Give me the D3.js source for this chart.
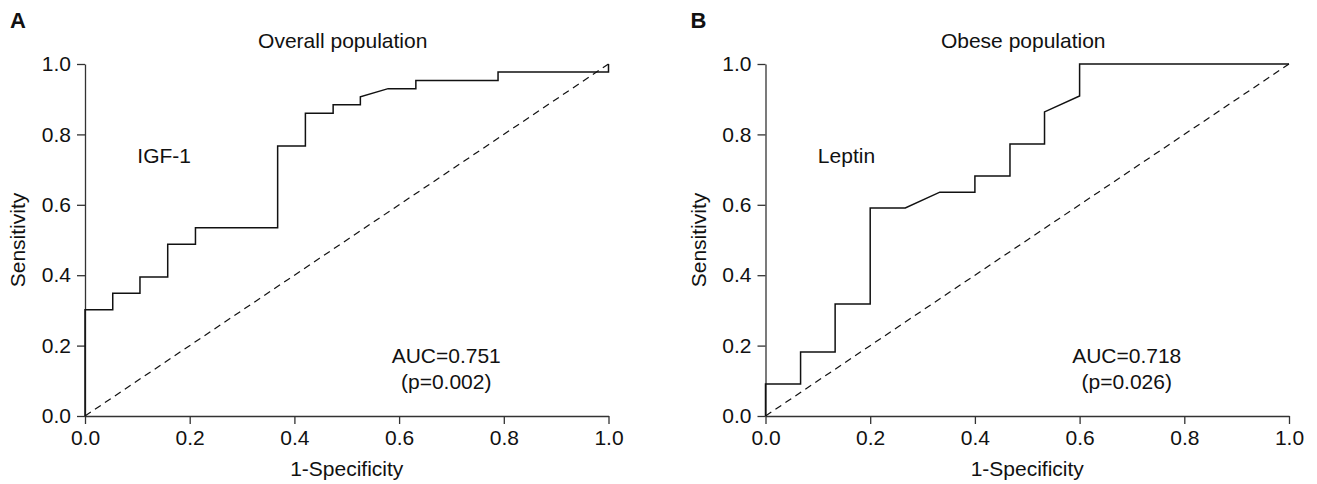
<!DOCTYPE html>
<html>
  <head>
    <meta charset="utf-8">
    <title>ROC curves</title>
    <style>
      body { margin: 0; background: #fff; overflow: hidden; }
      text { font-family: "Liberation Sans", Arial, sans-serif; fill: #111; }
      .axis path, .axis line { stroke: #333; stroke-width: 1.3; }
      .axis text { font-size: 21px; fill: #111; }
    </style>
    <script src="https://d3js.org/d3.v7.min.js"></script>
  </head>
  <body>
    <svg width="1317" height="484"></svg>
    <script>
      // ROC points: [1-specificity, sensitivity]
      const igfRoc = [
        [0, 0], [0, 0.302], [0.053, 0.302], [0.053, 0.349], [0.105, 0.349],
        [0.105, 0.395], [0.158, 0.395], [0.158, 0.488], [0.211, 0.488],
        [0.211, 0.535], [0.368, 0.535], [0.368, 0.767], [0.421, 0.767],
        [0.421, 0.860], [0.474, 0.860], [0.474, 0.884], [0.526, 0.884],
        [0.526, 0.907], [0.579, 0.930], [0.632, 0.930], [0.632, 0.953],
        [0.789, 0.953], [0.789, 0.977], [1, 0.977], [1, 1]
      ];
      const leptinRoc = [
        [0, 0], [0, 0.091], [0.067, 0.091], [0.067, 0.182], [0.133, 0.182],
        [0.133, 0.318], [0.2, 0.318], [0.2, 0.591], [0.267, 0.591],
        [0.333, 0.636], [0.4, 0.636], [0.4, 0.682], [0.467, 0.682],
        [0.467, 0.773], [0.533, 0.773], [0.533, 0.864], [0.6, 0.909],
        [0.6, 1], [1, 1]
      ];
      const reference = [[0, 0], [1, 1]];
      const ticks = [0, 0.2, 0.4, 0.6, 0.8, 1.0];

      const panels = [
        { letter: 'A', title: 'Overall population', marker: 'IGF-1', auc: 'AUC=0.751', p: '(p=0.002)', data: igfRoc, left: 85 },
        { letter: 'B', title: 'Obese population', marker: 'Leptin', auc: 'AUC=0.718', p: '(p=0.026)', data: leptinRoc, left: 765.5 }
      ];

      const svg = d3.select('svg');
      const plotTop = 64, plotBottom = 416, plotW = 523.5;

      panels.forEach(pn => {
        const x = d3.scaleLinear().domain([0, 1]).range([pn.left, pn.left + plotW]);
        const y = d3.scaleLinear().domain([0, 1]).range([plotBottom, plotTop]);
        const g = svg.append('g');

        g.append('g').attr('class', 'axis')
          .attr('transform', `translate(0,${plotBottom})`)
          .call(d3.axisBottom(x).tickValues(ticks).tickFormat(d3.format('.1f')).tickSize(8).tickPadding(6).tickSizeOuter(0));
        g.append('g').attr('class', 'axis')
          .attr('transform', `translate(${pn.left},0)`)
          .call(d3.axisLeft(y).tickValues(ticks).tickFormat(d3.format('.1f')).tickSize(8).tickPadding(6).tickSizeOuter(0));

        const line = d3.line().x(d => x(d[0])).y(d => y(d[1]));

        g.append('path').datum(reference)
          .attr('d', line)
          .attr('fill', 'none').attr('stroke', '#111').attr('stroke-width', 1.2)
          .attr('stroke-dasharray', '7,5');

        g.append('path').datum(pn.data)
          .attr('d', line)
          .attr('fill', 'none').attr('stroke', '#111').attr('stroke-width', 1.5);

        const mid = pn.left + plotW / 2;
        g.append('text').attr('x', pn.left - 75).attr('y', 28)
          .style('font-size', '22px').style('font-weight', 'bold').text(pn.letter);
        g.append('text').attr('x', mid - 4).attr('y', 48)
          .attr('text-anchor', 'middle').style('font-size', '21px').text(pn.title);
        g.append('text').attr('x', x(0.1)).attr('y', 163)
          .style('font-size', '21px').text(pn.marker);
        g.append('text').attr('x', x(0.69)).attr('y', 363)
          .attr('text-anchor', 'middle').style('font-size', '21px').text(pn.auc);
        g.append('text').attr('x', x(0.69)).attr('y', 389)
          .attr('text-anchor', 'middle').style('font-size', '21px').text(pn.p);
        g.append('text').attr('x', mid).attr('y', 476)
          .attr('text-anchor', 'middle').style('font-size', '21px').text('1-Specificity');
        g.append('text')
          .attr('transform', `translate(${pn.left - 60},${(plotTop + plotBottom) / 2}) rotate(-90)`)
          .attr('text-anchor', 'middle').style('font-size', '21px').text('Sensitivity');
      });
    </script>
  </body>
</html>
